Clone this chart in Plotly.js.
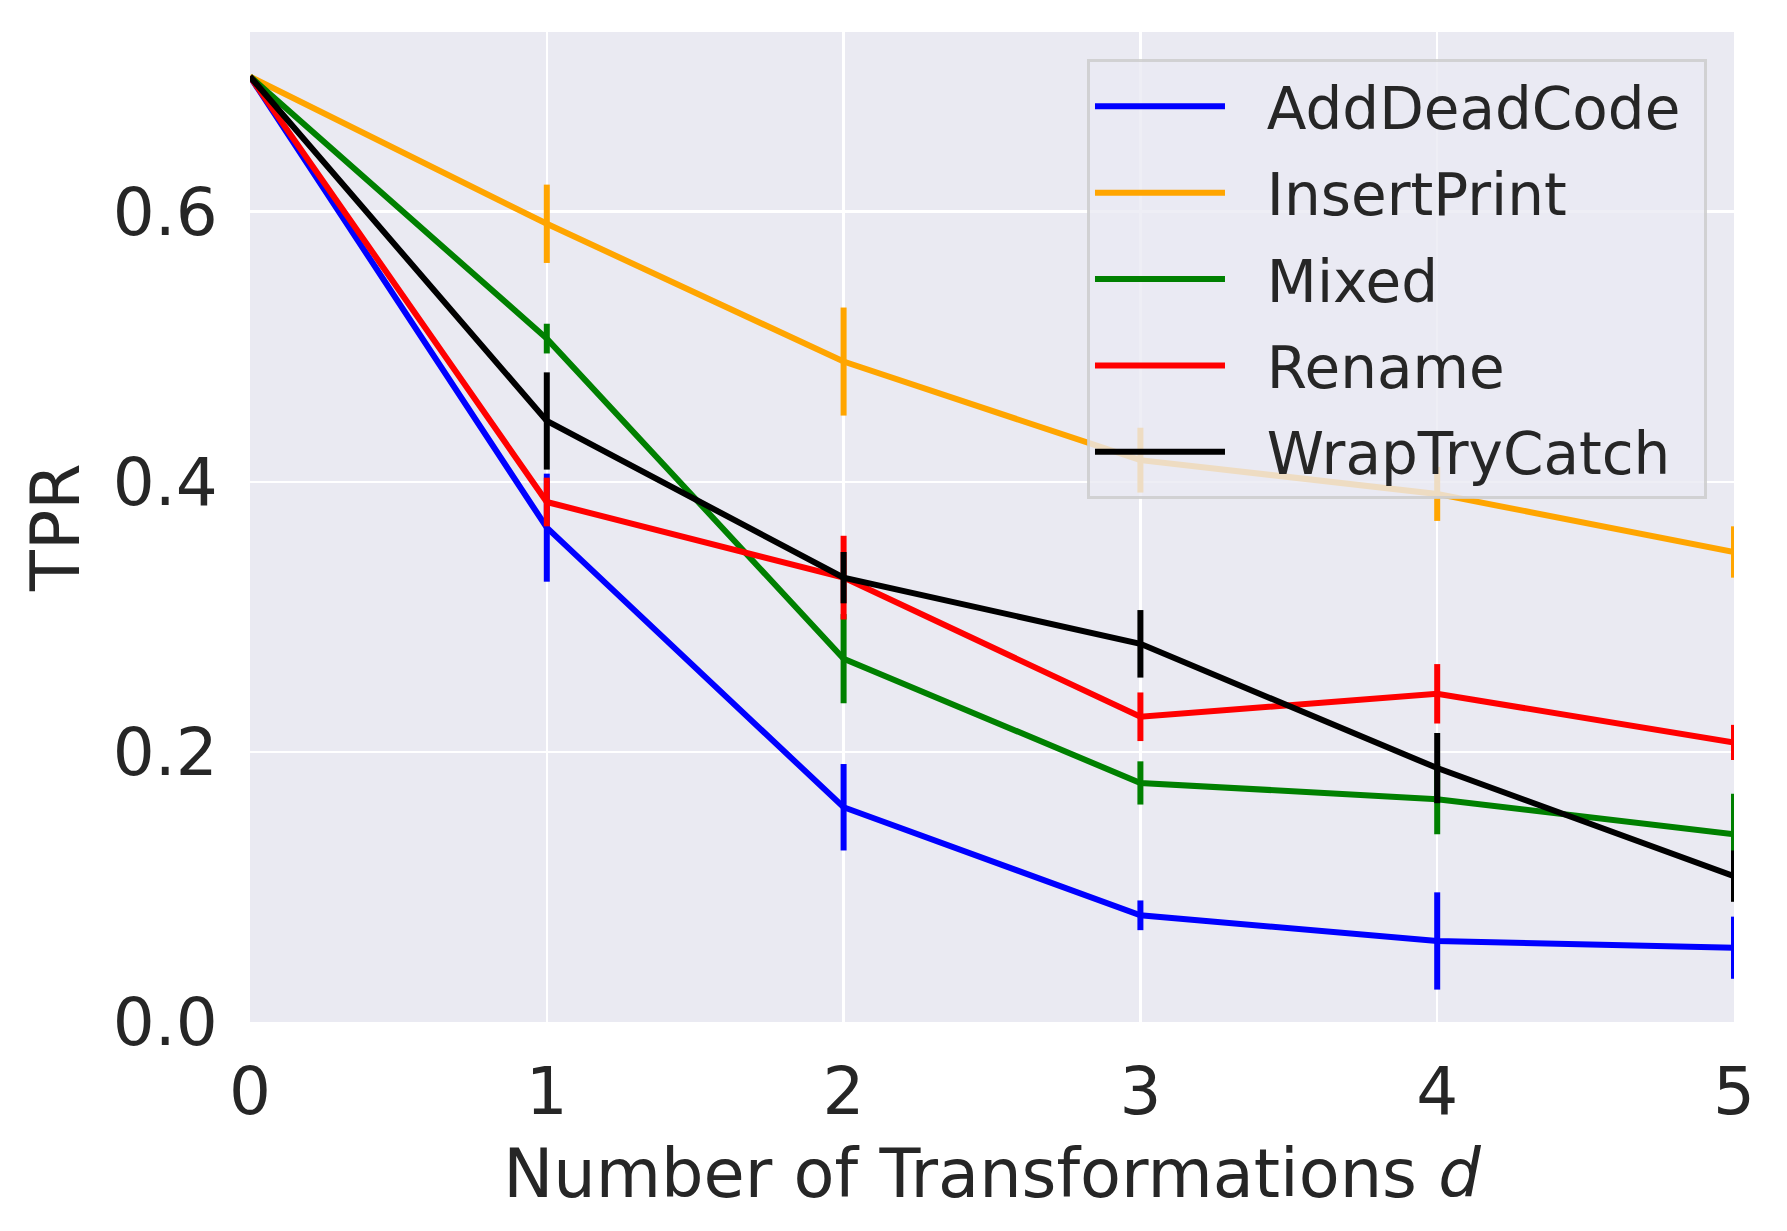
<!DOCTYPE html>
<html>
<head>
<meta charset="utf-8">
<script src="https://cdn.plot.ly/plotly-3.0.1.min.js"></script>
<style>html,body{margin:0;padding:0;background:#fff;}#chart{width:1787px;height:1231px;}</style>
</head>
<body>
<div id="chart"></div>
<script>
const xValues = [0, 1, 2, 3, 4, 5];
const seriesNames = ["AddDeadCode", "InsertPrint", "Mixed", "Rename", "WrapTryCatch"];
const addDeadCode = [0.70, 0.366, 0.159, 0.079, 0.060, 0.055];
const addDeadCodeErr = [0, 0.040, 0.032, 0.011, 0.036, 0.023];
const insertPrint = [0.70, 0.591, 0.489, 0.416, 0.391, 0.348];
const insertPrintErr = [0, 0.029, 0.040, 0.024, 0.020, 0.019];
const mixed = [0.70, 0.506, 0.269, 0.177, 0.165, 0.139];
const mixedErr = [0, 0.011, 0.033, 0.016, 0.026, 0.030];
const renameVals = [0.70, 0.385, 0.329, 0.226, 0.243, 0.207];
const renameErr = [0, 0.018, 0.031, 0.018, 0.022, 0.013];
const wrapTryCatch = [0.70, 0.445, 0.329, 0.280, 0.188, 0.108];
const wrapTryCatchErr = [0, 0.036, 0.019, 0.025, 0.026, 0.019];
const yTickVals = [0, 0.2, 0.4, 0.6];
const yTickText = ["0.0", "0.2", "0.4", "0.6"];

const colors = ["#0000FF", "#FFA500", "#008000", "#FF0000", "#000000"];
const ys = [addDeadCode, insertPrint, mixed, renameVals, wrapTryCatch];
const errs = [addDeadCodeErr, insertPrintErr, mixedErr, renameErr, wrapTryCatchErr];
const NBSP = '\u00a0';

const traces = seriesNames.map((name, i) => ({
  type: 'scatter',
  mode: 'lines',
  name: NBSP + NBSP + name + NBSP,
  legendgroup: name,
  x: xValues,
  y: ys[i],
  line: {color: colors[i], width: 6},
  error_y: {type: 'data', array: errs[i], visible: true, color: colors[i], thickness: 6, width: 0}
}));

const font = {family: 'DejaVu Sans, sans-serif', color: '#262626'};

const layout = {
  width: 1787,
  height: 1231,
  margin: {l: 250, r: 53, t: 32, b: 209},
  paper_bgcolor: '#ffffff',
  plot_bgcolor: '#EAEAF2',
  font: Object.assign({size: 60}, font),
  showlegend: true,
  legend: {
    x: 0.9818, y: 0.9727, xanchor: 'right', yanchor: 'top',
    bgcolor: 'rgba(234,234,242,0.8)',
    bordercolor: 'rgba(204,204,204,0.85)',
    borderwidth: 3,
    font: Object.assign({size: 58}, font),
    itemwidth: 130,
    tracegroupgap: 8
  },
  xaxis: {
    range: [0, 5],
    tickvals: xValues,
    ticktext: xValues.map(String),
    showgrid: true,
    gridcolor: '#ffffff',
    gridwidth: 2.5,
    zeroline: false,
    showline: false,
    ticks: 'outside',
    ticklen: 12,
    tickcolor: 'rgba(0,0,0,0)',
    tickfont: Object.assign({size: 66}, font),
    title: {text: 'Number of Transformations <i>d</i>', font: Object.assign({size: 67}, font), standoff: 20}
  },
  yaxis: {
    range: [0, 0.733],
    tickvals: yTickVals,
    ticktext: yTickText,
    showgrid: true,
    gridcolor: '#ffffff',
    gridwidth: 2.5,
    zeroline: false,
    showline: false,
    ticks: 'outside',
    ticklen: 18,
    tickcolor: 'rgba(0,0,0,0)',
    tickfont: Object.assign({size: 66}, font),
    title: {text: 'TPR', font: Object.assign({size: 67}, font), standoff: 11}
  }
};

Plotly.newPlot('chart', traces, layout, {displayModeBar: false, staticPlot: true});
</script>
</body>
</html>
